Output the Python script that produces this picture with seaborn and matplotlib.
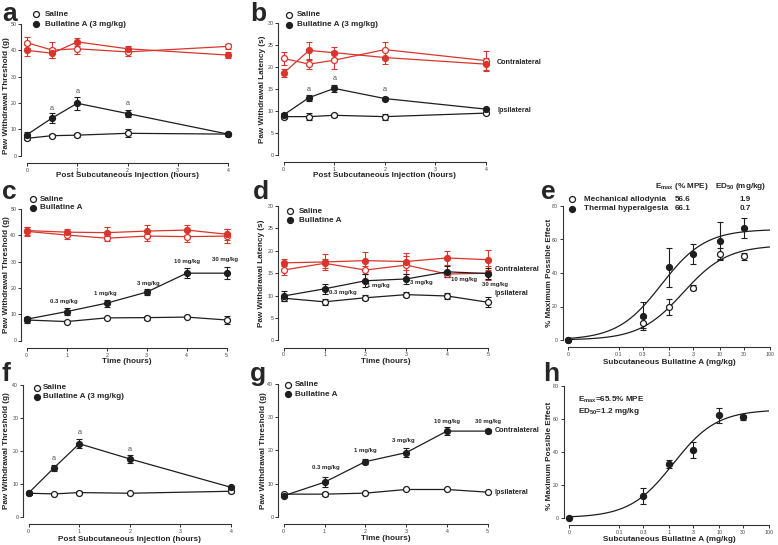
import numpy as np
import matplotlib
matplotlib.use("Agg")
import matplotlib.pyplot as plt
import seaborn as sns

W, H = 778, 545
RED = "#d9352c"
BLACK = "#1e1e1e"

# --- panel a: paw withdrawal threshold, bullatine A 3 mg/kg ---
TIME_A = [0, 0.5, 1, 2, 4]
A_CON_SAL = [42.9, 40.1, 40.6, 39.4, 41.5]
A_CON_SAL_ERR = [2.0, 3.0, 1.8, 1.5, 1.0]
A_CON_BUL = [40.0, 38.9, 43.2, 40.6, 38.2]
A_CON_BUL_ERR = [2.0, 1.8, 1.5, 1.0, 1.0]
A_IPS_SAL = [6.6, 7.6, 7.8, 8.5, 8.2]
A_IPS_SAL_ERR = [0.5, 0.5, 0.8, 1.5, 0.5]
A_IPS_BUL = [8.0, 14.3, 19.9, 16.0, 8.2]
A_IPS_BUL_ERR = [1.0, 1.8, 2.5, 1.3, 0.6]
A_SIG_X = [0.5, 1, 2]
A_SIG_Y = [18.0, 24.3, 19.8]

# --- panel b: paw withdrawal latency ---
B_CON_SAL = [21.9, 20.6, 21.5, 23.9, 21.4]
B_CON_SAL_ERR = [1.4, 1.0, 2.0, 1.7, 2.2]
B_CON_BUL = [18.6, 23.7, 23.2, 22.1, 20.6]
B_CON_BUL_ERR = [1.0, 2.0, 1.2, 1.5, 1.5]
B_IPS_SAL = [8.7, 8.7, 9.0, 8.7, 9.5]
B_IPS_SAL_ERR = [0.5, 0.8, 0.3, 0.7, 0.3]
B_IPS_BUL = [9.1, 13.0, 15.1, 12.8, 10.4]
B_IPS_BUL_ERR = [0.5, 0.7, 0.8, 0.3, 0.3]
B_SIG_Y = [14.9, 17.3, 14.8]

# --- panel c: cumulative dosing, threshold ---
TIME_C = [0, 1, 2, 3, 4, 5]
C_CON_SAL = [41.5, 40.1, 38.9, 39.7, 39.5, 39.7]
C_CON_SAL_ERR = [1.8, 1.5, 1.0, 2.0, 2.0, 2.8]
C_CON_BUL = [41.8, 41.2, 41.0, 41.6, 42.0, 40.4]
C_CON_BUL_ERR = [1.5, 1.2, 2.0, 2.2, 1.8, 2.0]
C_IPS_SAL = [7.8, 7.2, 8.6, 8.7, 8.9, 7.8]
C_IPS_SAL_ERR = [1.0, 0.3, 0.3, 0.8, 0.3, 1.5]
C_IPS_BUL = [8.1, 11.0, 14.2, 18.4, 25.6, 25.6]
C_IPS_BUL_ERR = [0.8, 1.3, 1.3, 1.2, 1.8, 2.2]
DOSE_TEXT = ["0.3 mg/kg", "1 mg/kg", "3 mg/kg", "10 mg/kg", "30 mg/kg"]
C_DOSE_X = [0.92, 1.97, 3.03, 4.0, 4.96]
C_DOSE_Y = [14.7, 17.9, 21.7, 30.2, 30.9]

# --- panel d: cumulative dosing, latency ---
D_CON_SAL = [15.7, 17.2, 15.7, 16.8, 14.8, 15.0]
D_CON_SAL_ERR = [1.2, 1.0, 1.0, 2.0, 0.7, 1.5]
D_CON_BUL = [17.3, 17.5, 17.8, 17.6, 18.4, 18.0]
D_CON_BUL_ERR = [0.8, 1.8, 1.9, 1.9, 1.5, 2.2]
D_IPS_SAL = [9.4, 8.6, 9.5, 10.2, 9.9, 8.5]
D_IPS_SAL_ERR = [0.6, 0.7, 0.6, 0.6, 0.7, 1.1]
D_IPS_BUL = [9.9, 11.5, 13.3, 13.7, 15.3, 14.9]
D_IPS_BUL_ERR = [1.2, 1.1, 1.5, 1.2, 1.2, 1.2]
D_DOSE_X = [1.1, 2.05, 3.1, 4.1, 4.85]
D_DOSE_Y = [10.6, 12.2, 12.8, 13.5, 12.4]

# --- panels e/h: dose response (% MPE) ---
DOSE = [0, 0.3, 1, 3, 10, 30]
E_MECH = [0, 10.0, 19.7, 31.2, 51.5, 50.0]
E_MECH_ERR = [0, 3.0, 5.0, 1.5, 3.5, 2.0]
E_THERM = [0, 14.3, 43.4, 51.1, 59.3, 66.9]
E_THERM_ERR = [0, 8.5, 11.5, 6.0, 11.0, 6.0]
E_FIT = {"mech": (56.6, 1.9), "therm": (66.1, 0.7)}
H_MPE = [0, 13.1, 32.5, 41.0, 62.0, 60.8]
H_MPE_ERR = [0, 4.8, 2.5, 5.0, 4.5, 1.5]
H_FIT = (65.5, 1.2)
DOSE_TICKS = [0.01, 0.1, 0.3, 1, 3, 10, 30, 100]
DOSE_TICKLABELS = ["0", "0.1", "0.3", "1", "3", "10", "30", "100"]

# --- panel f: threshold, 3 mg/kg ---
F_SAL = [7.2, 7.0, 7.4, 7.2, 7.8]
F_SAL_ERR = [0.4, 0.3, 0.4, 0.3, 0.6]
F_BUL = [7.3, 14.9, 22.2, 17.6, 9.0]
F_BUL_ERR = [0.3, 1.0, 1.3, 1.2, 0.4]
F_SIG_Y = [17.8, 25.5, 20.6]

# --- panel g: cumulative dosing, threshold ---
G_SAL = [6.8, 6.8, 7.1, 8.2, 8.2, 7.4]
G_SAL_ERR = [0.4, 0.6, 0.3, 0.3, 0.3, 0.3]
G_BUL = [6.3, 10.4, 16.6, 19.3, 25.8, 25.8]
G_BUL_ERR = [0.3, 1.5, 0.8, 1.4, 1.3, 0.5]
G_DOSE_X = [1.04, 1.99, 2.93, 4.0, 5.0]
G_DOSE_Y = [14.8, 19.9, 23.0, 28.6, 28.6]

sns.set_style("ticks")
plt.rcParams["font.family"] = ["Liberation Sans", "DejaVu Sans"]
plt.rcParams["mathtext.fontset"] = "custom"
plt.rcParams["mathtext.bf"] = "Liberation Sans:bold"
plt.rcParams["mathtext.rm"] = "Liberation Sans"

fig = plt.figure(figsize=(W / 100, H / 100), dpi=100)


def fx(px):
    return px / W


def fy(py):
    return 1 - py / H


def add_axes(x0, x1, ytop, ybot):
    return fig.add_axes([fx(x0), fy(ybot), fx(x1 - x0), (ybot - ytop) / H])


def series(ax, x, y, err, color, filled, z=3):
    face = color if filled else "white"
    ax.errorbar(x, y, yerr=err, fmt="none", ecolor=color, elinewidth=0.8,
                capsize=2.0, capthick=0.8, clip_on=False, zorder=z)
    sns.lineplot(x=x, y=y, ax=ax, color=color, linewidth=0.9, marker="o",
                 markersize=4.3, markerfacecolor=face, markeredgecolor=color,
                 markeredgewidth=0.9, errorbar=None, legend=False,
                 clip_on=False, zorder=z + 1)


def style(ax, xlim, ylim, xticks, yticks, xlabel, ylabel, ylab_px, xlab_py, ylab_y=0.5):
    ax.set_xlim(*xlim)
    ax.set_ylim(*ylim)
    ax.set_xticks(xticks)
    ax.set_yticks(yticks)
    sns.despine(ax=ax, offset={"left": 4, "bottom": 5.2})
    for s in ("left", "bottom"):
        ax.spines[s].set_linewidth(0.8)
        ax.spines[s].set_color("#333333")
    ax.tick_params(labelsize=3.8, length=2, width=0.7, colors="#333333",
                   labelcolor="#444444", pad=1.5)
    ax.set_xlabel(xlabel, fontsize=5.9, fontweight="bold")
    ax.set_ylabel(ylabel, fontsize=5.9, fontweight="bold")
    ax.yaxis.set_label_coords(fx(ylab_px), ylab_y,
                              transform=matplotlib.transforms.blended_transform_factory(
                                  fig.transFigure, ax.transAxes))
    ax.xaxis.set_label_coords(0.5, fy(xlab_py),
                              transform=matplotlib.transforms.blended_transform_factory(
                                  ax.transAxes, fig.transFigure))


def legend(rows, xm, xt, color=BLACK):
    for label, filled, y in rows:
        fig.lines.append(matplotlib.lines.Line2D(
            [fx(xm)], [fy(y)], transform=fig.transFigure, marker="o",
            markersize=4.3, markeredgewidth=0.9, color=color,
            markerfacecolor=color if filled else "white", linestyle="none"))
        fig.text(fx(xt), fy(y), label, fontsize=5.9, fontweight="bold",
                 va="center", ha="left")


def sig(ax, xs, ys):
    for x, y in zip(xs, ys):
        ax.text(x, y, "a", fontsize=5.2, color="#555555", ha="center", va="center")


def side_labels(ax, x, y_con, y_ips):
    ax.text(x, y_con, "Contralateral", fontsize=5.2, fontweight="bold",
            va="center", ha="left", clip_on=False)
    ax.text(x, y_ips, "Ipsilateral", fontsize=5.2, fontweight="bold",
            va="center", ha="left", clip_on=False)


def dose_labels(ax, xs, ys, ha):
    for t, x, y in zip(DOSE_TEXT, xs, ys):
        ax.text(x, y, t, fontsize=4.3, fontweight="bold", ha=ha, va="center")


def emax_curve(emax, ed50):
    d = np.geomspace(0.01, 100, 300)
    return d, emax * d / (d + ed50)


def dose_pos(doses):
    return [0.01 if d == 0 else d for d in doses]


INJ = "Post Subcutaneous Injection (hours)"
THR = "Paw Withdrawal Threshold (g)"
LAT = "Paw Withdrawal Latency (s)"
MPE = "% Maximum Possible Effect"
SUBQ = "Subcutaneous Bullatine A (mg/kg)"

# panel a
ax = add_axes(27, 228, 24, 155.7)
series(ax, TIME_A, A_CON_SAL, A_CON_SAL_ERR, RED, False)
series(ax, TIME_A, A_CON_BUL, A_CON_BUL_ERR, RED, True)
series(ax, TIME_A, A_IPS_SAL, A_IPS_SAL_ERR, BLACK, False)
series(ax, TIME_A, A_IPS_BUL, A_IPS_BUL_ERR, BLACK, True)
sig(ax, A_SIG_X, A_SIG_Y)
style(ax, (0, 4), (0, 50), [0, 1, 2, 3, 4], range(0, 51, 10), INJ, THR, 10.5, 172, 0.46)
legend([("Saline", False, 14), ("Bullatine A (3 mg/kg)", True, 24)], 35.7, 45)

# panel b
ax = add_axes(283.7, 486, 22.7, 155)
series(ax, TIME_A, B_CON_SAL, B_CON_SAL_ERR, RED, False)
series(ax, TIME_A, B_CON_BUL, B_CON_BUL_ERR, RED, True)
series(ax, TIME_A, B_IPS_SAL, B_IPS_SAL_ERR, BLACK, False)
series(ax, TIME_A, B_IPS_BUL, B_IPS_BUL_ERR, BLACK, True)
sig(ax, A_SIG_X, B_SIG_Y)
side_labels(ax, 4.22, 20.9, 10.2)
style(ax, (0, 4), (0, 30), [0, 1, 2, 3, 4], range(0, 31, 5), INJ, LAT, 266, 172)
legend([("Saline", False, 14.7), ("Bullatine A (3 mg/kg)", True, 25)], 288.7, 296.7)

# panel c
ax = add_axes(26.7, 226.7, 209, 340.5)
series(ax, TIME_C, C_CON_SAL, C_CON_SAL_ERR, RED, False)
series(ax, TIME_C, C_CON_BUL, C_CON_BUL_ERR, RED, True)
series(ax, TIME_C, C_IPS_SAL, C_IPS_SAL_ERR, BLACK, False)
series(ax, TIME_C, C_IPS_BUL, C_IPS_BUL_ERR, BLACK, True)
dose_labels(ax, C_DOSE_X, C_DOSE_Y, "center")
style(ax, (0, 5), (0, 50), TIME_C, range(0, 51, 10), "Time (hours)", THR, 10.5, 358)
legend([("Saline", False, 199), ("Bullatine A", True, 207.7)], 33.3, 40)

# panel d
ax = add_axes(283.7, 488, 206, 340.3)
series(ax, TIME_C, D_CON_SAL, D_CON_SAL_ERR, RED, False)
series(ax, TIME_C, D_CON_BUL, D_CON_BUL_ERR, RED, True)
series(ax, TIME_C, D_IPS_SAL, D_IPS_SAL_ERR, BLACK, False)
series(ax, TIME_C, D_IPS_BUL, D_IPS_BUL_ERR, BLACK, True)
dose_labels(ax, D_DOSE_X, D_DOSE_Y, "left")
side_labels(ax, 5.17, 15.9, 10.4)
style(ax, (0, 5), (0, 30), TIME_C, range(0, 31, 5), "Time (hours)", LAT, 265, 358)
legend([("Saline", False, 211.3), ("Bullatine A", True, 220)], 290, 299.3)

# panel e
ax = add_axes(568.3, 770, 206, 340)
ax.set_xscale("log")
for (emax, ed50) in E_FIT.values():
    cx, cy = emax_curve(emax, ed50)
    sns.lineplot(x=cx, y=cy, ax=ax, color=BLACK, linewidth=0.9, legend=False)
for y, err, filled in ((E_MECH, E_MECH_ERR, False), (E_THERM, E_THERM_ERR, True)):
    ax.errorbar(dose_pos(DOSE), y, yerr=err, fmt="none", ecolor=BLACK,
                elinewidth=0.8, capsize=2.0, capthick=0.8, clip_on=False, zorder=3)
    ax.plot(dose_pos(DOSE), y, "o", ms=4.3, mew=0.9, color=BLACK,
            mfc=BLACK if filled else "white", clip_on=False, zorder=4)
style(ax, (0.01, 100), (0, 80), DOSE_TICKS, range(0, 81, 20), SUBQ, MPE, 553, 359)
ax.set_xticklabels(DOSE_TICKLABELS)
ax.minorticks_off()
legend([("Mechanical allodynia", False, 199), ("Thermal hyperalgesia", True, 209)], 571.7, 584)
fig.text(fx(682), fy(186), r"E$_{\mathbf{max}}$ (% MPE)", fontsize=5.9,
         fontweight="bold", ha="center", va="center")
fig.text(fx(741), fy(186), r"ED$_{\mathbf{50}}$ (mg/kg)", fontsize=5.9,
         fontweight="bold", ha="center", va="center")
for (emax, ed50), y in zip(E_FIT.values(), (199, 209)):
    fig.text(fx(683), fy(y), f"{emax:.1f}", fontsize=5.9, fontweight="bold",
             ha="center", va="center")
    fig.text(fx(745), fy(y), f"{ed50:.1f}", fontsize=5.9, fontweight="bold",
             ha="center", va="center")

# panel f
ax = add_axes(28.7, 231, 385, 517)
series(ax, TIME_A, F_SAL, F_SAL_ERR, BLACK, False)
series(ax, TIME_A, F_BUL, F_BUL_ERR, BLACK, True)
sig(ax, A_SIG_X, F_SIG_Y)
style(ax, (0, 4), (0, 40), [0, 1, 2, 3, 4], range(0, 41, 10), INJ, THR, 10, 536)
legend([("Saline", False, 387.7), ("Bullatine A (3 mg/kg)", True, 396.7)], 36.7, 43)

# panel g
ax = add_axes(283.7, 487.7, 384, 516.7)
series(ax, TIME_C, G_SAL, G_SAL_ERR, BLACK, False)
series(ax, TIME_C, G_BUL, G_BUL_ERR, BLACK, True)
dose_labels(ax, G_DOSE_X, G_DOSE_Y, "center")
side_labels(ax, 5.17, 25.9, 7.3)
style(ax, (0, 5), (0, 40), TIME_C, range(0, 41, 10), "Time (hours)", THR, 267, 535)
legend([("Saline", False, 385), ("Bullatine A", True, 394.3)], 288.3, 295)

# panel h
ax = add_axes(569.3, 769.3, 385.7, 517.7)
ax.set_xscale("log")
cx, cy = emax_curve(*H_FIT)
sns.lineplot(x=cx, y=cy, ax=ax, color=BLACK, linewidth=0.9, legend=False)
ax.errorbar(dose_pos(DOSE), H_MPE, yerr=H_MPE_ERR, fmt="none", ecolor=BLACK,
            elinewidth=0.8, capsize=2.0, capthick=0.8, clip_on=False, zorder=3)
ax.plot(dose_pos(DOSE), H_MPE, "o", ms=4.3, color=BLACK, clip_on=False, zorder=4)
style(ax, (0.01, 100), (0, 80), DOSE_TICKS, range(0, 81, 20), SUBQ, MPE, 553, 536, 0.47)
ax.set_xticklabels(DOSE_TICKLABELS)
ax.minorticks_off()
fig.text(fx(578), fy(400), r"E$_{\mathbf{max}}$=65.5% MPE", fontsize=5.9,
         fontweight="bold", va="center")
fig.text(fx(578), fy(411.7), r"ED$_{\mathbf{50}}$=1.2 mg/kg", fontsize=5.9,
         fontweight="bold", va="center")

# panel letters
for letter, x, y in [("a", 2, 21), ("b", 250, 21), ("c", 2, 199), ("d", 253, 199),
                     ("e", 541, 199), ("f", 2, 381), ("g", 250, 381), ("h", 543, 381)]:
    fig.text(fx(x), fy(y), letter, fontsize=19, fontweight="bold", va="baseline")

fig.savefig("out.png", dpi=100)
